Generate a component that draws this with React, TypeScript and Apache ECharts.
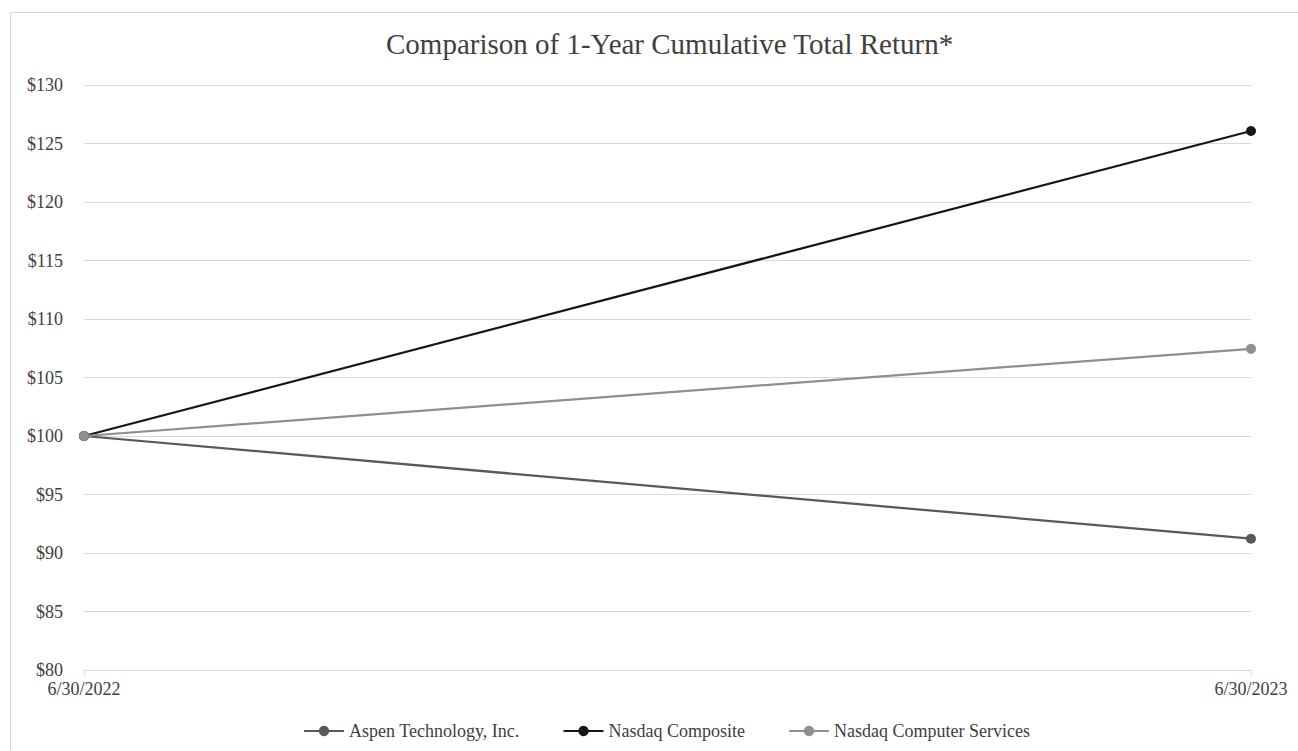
import React, { useEffect, useRef } from "react";
import * as echarts from "echarts";

const categories = ["6/30/2022", "6/30/2023"];
const aspen = [100, 91.22];
const nasdaqComposite = [100, 126.07];
const nasdaqComputer = [100, 107.45];
const seriesNames = ["Aspen Technology, Inc.", "Nasdaq Composite", "Nasdaq Computer Services"];
const seriesColors = ["#595959", "#161616", "#8f8f8f"];
const yMin = 80;
const yMax = 130;
const yStep = 5;

const FONT = "'Liberation Serif', 'Times New Roman', serif";

export default function App() {
  const ref = useRef<HTMLDivElement>(null);
  useEffect(() => {
    if (!ref.current) return;
    const chart = echarts.init(ref.current, null, { renderer: "svg" });
    const data = [aspen, nasdaqComposite, nasdaqComputer];
    chart.setOption({
      animation: false,
      backgroundColor: "#ffffff",
      textStyle: { fontFamily: FONT },
      title: {
        text: "Comparison of 1-Year Cumulative Total Return*",
        left: 381,
        top: 24,
        textStyle: { fontFamily: FONT, fontSize: 29, fontWeight: "normal", color: "#404040" },
      },
      graphic: [
        {
          type: "rect",
          shape: { x: 10.5, y: 12.5, width: 1400, height: 800 },
          style: { fill: "none", stroke: "#d9d9d9", lineWidth: 1 },
          silent: true,
        },
      ],
      legend: {
        left: 298,
        top: 717,
        itemWidth: 40,
        itemHeight: 13,
        itemGap: 43,
        textStyle: { fontFamily: FONT, fontSize: 18, color: "#404040" },
        data: seriesNames,
      },
      grid: { left: 84, right: 47, top: 85, bottom: 81, containLabel: false },
      xAxis: {
        type: "category",
        data: categories,
        boundaryGap: false,
        axisLine: { show: true, lineStyle: { color: "#d9d9d9", width: 1 } },
        axisTick: { show: true, length: 5, lineStyle: { color: "#d9d9d9" } },
        axisLabel: { fontFamily: FONT, fontSize: 18, color: "#404040", margin: 10 },
      },
      yAxis: {
        type: "value",
        min: yMin,
        max: yMax,
        interval: yStep,
        axisLine: { show: false },
        axisTick: { show: false },
        splitLine: { show: true, lineStyle: { color: "#d9d9d9", width: 1 } },
        axisLabel: {
          fontFamily: FONT,
          fontSize: 18,
          color: "#404040",
          margin: 21,
          formatter: (v: number) => "$" + v,
        },
      },
      series: seriesNames.map((name, i) => ({
        name,
        type: "line",
        data: data[i],
        symbol: "circle",
        symbolSize: 10,
        lineStyle: { color: seriesColors[i], width: 2.25 },
        itemStyle: { color: seriesColors[i] },
        emphasis: { disabled: true },
      })),
    });
    return () => chart.dispose();
  }, []);
  return (
    <div
      ref={ref}
      style={{ position: "absolute", left: 0, top: 0, width: 1298, height: 751 }}
    />
  );
}
